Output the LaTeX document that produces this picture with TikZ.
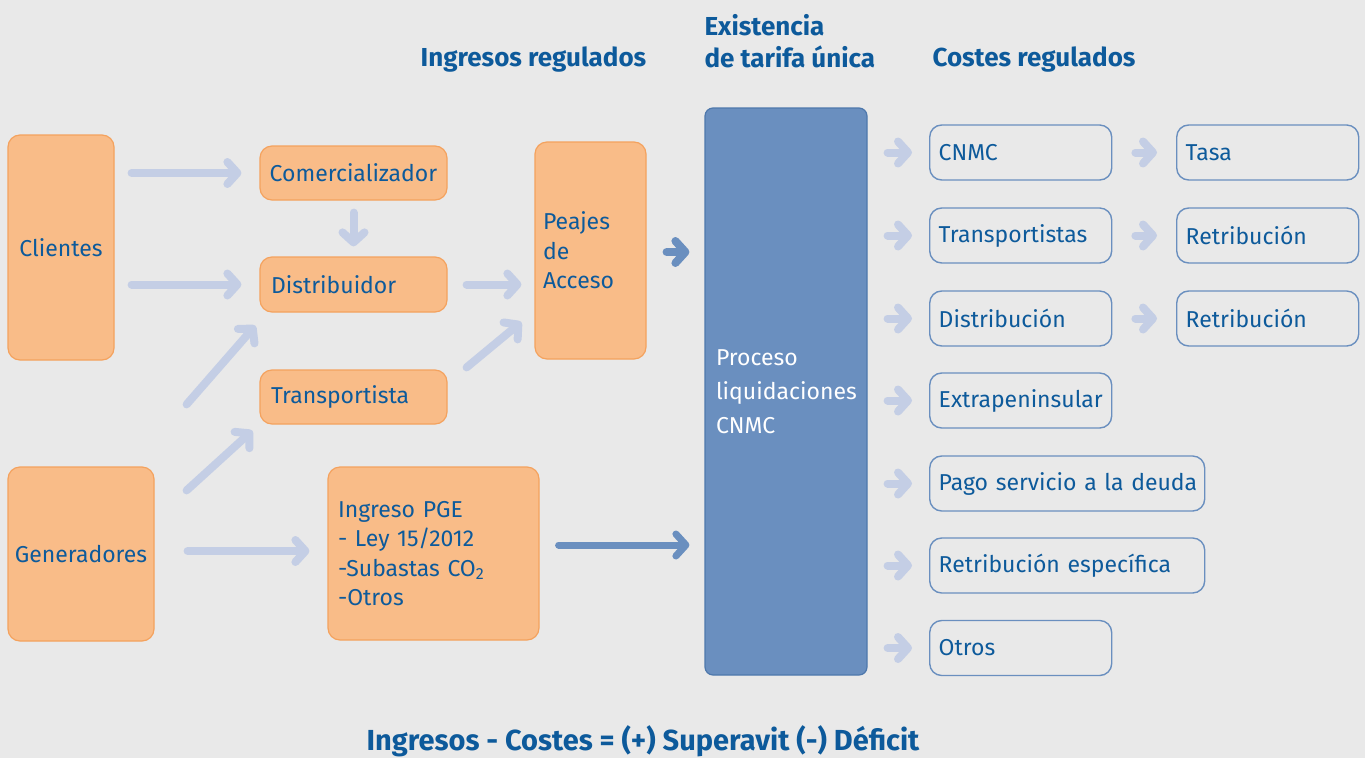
\documentclass[tikz,border=0pt]{standalone}
\usepackage{fontspec}
\setmainfont{Fira Sans}
\usetikzlibrary{arrows.meta, positioning, calc}
\definecolor{bggray}{HTML}{E9E9E9}
\definecolor{ofill}{HTML}{F9BC88}
\definecolor{oline}{HTML}{F4A25E}
\definecolor{pblue}{HTML}{6A8FBF}
\definecolor{pline}{HTML}{4E78AC}
\definecolor{tblue}{HTML}{0D5A9B}
\definecolor{larrow}{HTML}{C4CEE5}

\begin{document}
\begin{tikzpicture}[
  x=1pt, y=-1pt,
  font=\fontsize{23}{29.5}\selectfont, text=tblue,
  obox/.style={rectangle, rounded corners=12pt, draw=oline, line width=1.2pt, fill=ofill, inner xsep=9pt, inner ysep=0pt, align=left},
  cbox/.style={rectangle, rounded corners=12pt, draw=pblue, line width=1.4pt, inner xsep=9pt, inner ysep=0pt, minimum height=55pt, align=left, anchor=west},
  head/.style={font=\fontsize{26}{32}\selectfont\bfseries, align=left},
  arr/.style={line width=8pt, larrow, line cap=round, -{Straight Barb[round, length=10pt, width=22pt]}},
  darr/.style={arr, pblue}
]
  % Background
  \fill[bggray] (0,0) rectangle (1365,758);
  \useasboundingbox (0,0) rectangle (1365,758);
  % Headers
  \node[head] (hing) at (533.5,60) {Ingresos regulados};
  \node[head, anchor=west] (htar) at (701,41) {Existencia\\de tarifa única};
  \node[head, anchor=west] (hcos) at (929,60) {Costes regulados};
  % Left side
  \node[obox, text width=88pt, align=center, minimum height=225pt] (clientes) at (61,247.5) {Clientes};
  \node[obox, inner xsep=4pt, text width=138pt, align=center, minimum height=174pt] (generadores) at (81,554) {Generadores};
  \node[obox, text width=169pt, align=center, minimum height=54pt] (comer) at (353.5,173) {Comercializador};
  \node[obox, inner xsep=11pt, text width=165pt, minimum height=55pt] (distrib) at (353.5,284.5) {Distribuidor};
  \node[obox, inner xsep=11pt, text width=165pt, minimum height=54pt] (transp) at (353.5,397) {Transportista};
  \node[obox, inner xsep=10pt, text width=191pt, minimum height=173pt] (pge) at (433.5,553.5) {Ingreso PGE\\- Ley 15/2012\\-Subastas CO\textsubscript{2}\\-Otros};
  \node[obox, inner xsep=8pt, text width=95pt, minimum height=217pt] (peajes) at (590.5,250.5) {Peajes\\de\\Acceso};
  % Liquidation process
  \node[rectangle, rounded corners=8pt, draw=pline, line width=1.2pt, fill=pblue, text=white, inner xsep=11pt, text width=140pt, minimum height=567pt, align=left, font=\fontsize{23}{34}\selectfont] (proceso) at (786,391.5) {Proceso\\liquidaciones\\CNMC};
  % Regulated costs
  \node[cbox, text width=164pt] (cnmc) at (929,152.5) {CNMC};
  \node[cbox, text width=164pt] (transps) at (929,235.5) {Transportistas};
  \node[cbox, text width=164pt] (distribc) at (929,318.5) {Distribución};
  \node[cbox, text width=164pt] (extra) at (929,400.5) {Extrapeninsular};
  \node[cbox, text width=257pt] (pago) at (929,483.5) {\mbox{Pago servicio a la deuda}};
  \node[cbox, text width=257pt] (retesp) at (929,565.5) {\mbox{Retribución específica}};
  \node[cbox, text width=164pt] (otros) at (929,648) {Otros};
  \node[cbox, text width=164pt] (tasa) at (1176,152.5) {Tasa};
  \node[cbox, text width=164pt] (rettr) at (1176,235.5) {Retribución};
  \node[cbox, text width=164pt] (retdi) at (1176,318.5) {Retribución};
  % Arrows
  \draw[arr, shorten <=17pt, shorten >=18pt] (clientes.east |- comer.west) -- (comer.west);
  \draw[arr, shorten <=17pt, shorten >=18pt] (clientes.east |- distrib.west) -- (distrib.west);
  \draw[arr, xshift=-5pt, shorten <=12pt, shorten >=10pt] (comer.south) -- (distrib.north);
  \draw[arr, shorten <=19pt, shorten >=13pt] (distrib.east) -- (peajes.west |- distrib.east);
  \draw[arr] ($(transp.north east)+(19,-2)$) -- ($(peajes.west)+(-13,71.5)$);
  \draw[arr] ($(generadores.north east)+(32,-62)$) -- ($(distrib.south west)+(-4,13)$);
  \draw[arr] ($(generadores.north east)+(32,24)$) -- ($(transp.south west)+(-7,6)$);
  \draw[arr, shorten <=33pt, shorten >=18pt] ($(generadores.east)+(0,-3)$) -- ($(pge.west |- generadores.east)+(0,-3)$);
  \draw[darr, shorten <=20pt, shorten >=15pt] ($(peajes.east)+(0,1.5)$) -- ($(proceso.west |- peajes.east)+(0,1.5)$);
  \draw[darr, line width=7pt, shorten <=19pt, shorten >=15pt] ($(pge.east)+(0,-8.5)$) -- ($(proceso.west |- pge.east)+(0,-8.5)$);
  \foreach \n in {cnmc, transps, distribc, extra, pago, retesp, otros}
    \draw[arr, shorten <=20pt, shorten >=17pt] (proceso.east |- \n.west) -- (\n.west);
  \draw[arr, shorten <=23pt, shorten >=19pt] (cnmc.east) -- (tasa.west);
  \draw[arr, shorten <=23pt, shorten >=19pt] (transps.east) -- (rettr.west);
  \draw[arr, shorten <=23pt, shorten >=19pt] (distribc.east) -- (retdi.west);
  % Balance
  \node[font=\fontsize{29}{33}\selectfont\bfseries] (balance) at (643,741) {Ingresos - Costes = (+) Superavit (-) Déficit};
\end{tikzpicture}
\end{document}
